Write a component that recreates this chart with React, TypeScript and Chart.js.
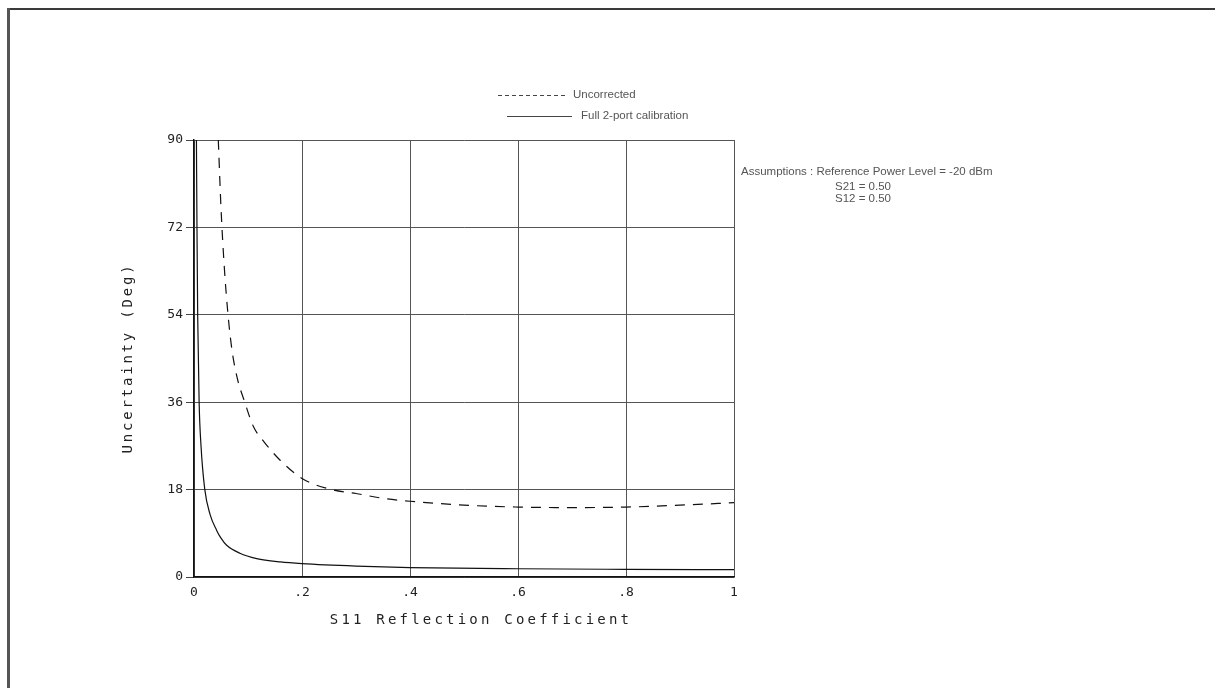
import React, { useEffect, useRef } from "react";
import { Chart, registerables } from "chart.js";

Chart.register(...registerables);

// ---- data ----
const uncorrectedX = [0.045, 0.05, 0.056, 0.063, 0.07, 0.08, 0.094, 0.11, 0.13, 0.16, 0.2, 0.255, 0.3, 0.35, 0.4, 0.5, 0.6, 0.7, 0.8, 0.9, 1.0];
const uncorrectedY = [90, 76, 64, 54, 47, 41, 36, 31, 27.8, 24, 20.3, 18, 17.2, 16.2, 15.6, 14.8, 14.4, 14.3, 14.4, 14.8, 15.3];

const fullX = [0.0045, 0.0055, 0.0068, 0.0095, 0.013, 0.02, 0.03, 0.042, 0.05, 0.06, 0.085, 0.116, 0.16, 0.2, 0.3, 0.4, 0.6, 0.8, 1.0];
const fullY = [90, 72, 54, 36, 27, 18, 12.8, 9.6, 8.0, 6.6, 4.9, 3.8, 3.1, 2.75, 2.25, 1.95, 1.7, 1.58, 1.5];

const xTickLabels = ["0", ".2", ".4", ".6", ".8", "1"];
const yTickValues = [0, 18, 36, 54, 72, 90];

const legendLabels = ["Uncorrected", "Full 2-port calibration"];
const assumptionLines = [
  "Assumptions : Reference Power Level = -20 dBm",
  "S21 = 0.50",
  "S12 = 0.50",
];
const xTitle = "S11 Reflection Coefficient";
const yTitle = "Uncertainty (Deg)";

const W = 1215;
const H = 688;

export default function App() {
  const ref = useRef<HTMLCanvasElement | null>(null);

  useEffect(() => {
    const canvas = ref.current;
    if (!canvas) return;

    const decor = {
      id: "decor",
      afterDraw(chart: any) {
        const ctx = chart.ctx as CanvasRenderingContext2D;
        ctx.save();
        // page border (scanned sheet edge)
        ctx.strokeStyle = "#3a3a3a";
        ctx.lineWidth = 2;
        ctx.beginPath();
        ctx.moveTo(8, 9);
        ctx.lineTo(W, 9);
        ctx.stroke();
        ctx.strokeStyle = "#555";
        ctx.lineWidth = 3;
        ctx.beginPath();
        ctx.moveTo(8.5, 8);
        ctx.lineTo(8.5, H);
        ctx.stroke();

        // legend
        ctx.strokeStyle = "#444";
        ctx.lineWidth = 1;
        ctx.setLineDash([4, 3]);
        ctx.beginPath();
        ctx.moveTo(498, 95.5);
        ctx.lineTo(568, 95.5);
        ctx.stroke();
        ctx.setLineDash([]);
        ctx.beginPath();
        ctx.moveTo(507, 116.5);
        ctx.lineTo(572, 116.5);
        ctx.stroke();
        ctx.fillStyle = "#555";
        ctx.font = "11.5px 'Liberation Sans', Arial, sans-serif";
        ctx.textBaseline = "middle";
        ctx.textAlign = "left";
        ctx.fillText(legendLabels[0], 573, 95);
        ctx.fillText(legendLabels[1], 581, 116);

        // assumptions
        ctx.font = "11.5px 'Liberation Sans', Arial, sans-serif";
        ctx.fillText(assumptionLines[0], 741, 172);
        ctx.fillText(assumptionLines[1], 835, 187);
        ctx.fillText(assumptionLines[2], 835, 199);

        // axis titles
        ctx.fillStyle = "#222";
        ctx.font = "14px 'DejaVu Sans Mono', monospace";
        (ctx as any).letterSpacing = "3.2px";
        ctx.textAlign = "center";
        ctx.fillText(xTitle, 481, 620);
        ctx.translate(128, 358);
        ctx.rotate(-Math.PI / 2);
        (ctx as any).letterSpacing = "2.8px";
        ctx.fillText(yTitle, 0, 0);
        (ctx as any).letterSpacing = "0px";
        ctx.restore();
      },
    };

    const chart = new Chart(canvas, {
      type: "line",
      data: {
        datasets: [
          {
            label: legendLabels[0],
            data: uncorrectedX.map((x, i) => ({ x, y: uncorrectedY[i] })),
            borderColor: "#111",
            borderWidth: 1.2,
            borderDash: [10, 8],
            pointRadius: 0,
            cubicInterpolationMode: "monotone",
            fill: false,
          },
          {
            label: legendLabels[1],
            data: fullX.map((x, i) => ({ x, y: fullY[i] })),
            borderColor: "#111",
            borderWidth: 1.2,
            pointRadius: 0,
            cubicInterpolationMode: "monotone",
            fill: false,
          },
        ],
      },
      options: {
        responsive: false,
        animation: false,
        layout: { padding: { left: 0, top: 140, right: W - 734, bottom: 0 } },
        plugins: {
          legend: { display: false },
          tooltip: { enabled: false },
          title: { display: false },
        },
        scales: {
          x: {
            type: "linear",
            min: 0,
            max: 1,
            afterFit: (s: any) => {
              s.height = H - 577;
            },
            ticks: {
              stepSize: 0.2,
              padding: 8,
              color: "#222",
              font: { family: "'DejaVu Sans Mono', monospace", size: 13 },
              callback: (_v: any, i: number) => xTickLabels[i],
            },
            grid: { color: "#555", lineWidth: 1, drawTicks: false },
            border: { color: "#111", width: 1.5 },
          },
          y: {
            type: "linear",
            min: 0,
            max: 90,
            afterFit: (s: any) => {
              s.width = 194;
            },
            afterBuildTicks: (s: any) => {
              s.ticks = yTickValues.map((v) => ({ value: v }));
            },
            ticks: {
              padding: 3,
              color: "#222",
              font: { family: "'DejaVu Sans Mono', monospace", size: 13 },
            },
            grid: { color: "#555", lineWidth: 1, tickLength: 8, tickColor: "#444" },
            border: { color: "#111", width: 1.5 },
          },
        },
      },
      plugins: [decor],
    } as any);

    return () => chart.destroy();
  }, []);

  return (
    <div style={{ position: "fixed", left: 0, top: 0, width: W, height: H, background: "#fff" }}>
      <canvas ref={ref} width={W} height={H} style={{ display: "block", width: W, height: H }} />
    </div>
  );
}
